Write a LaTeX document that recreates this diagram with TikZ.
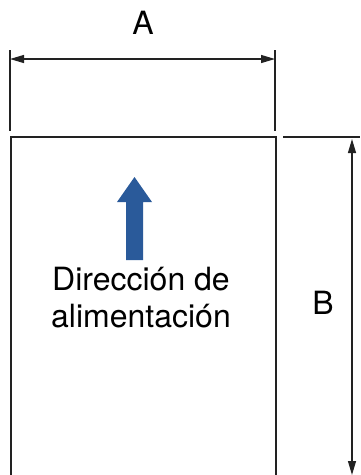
\documentclass[tikz,border=0pt]{standalone}
\usepackage{fontspec}
\setmainfont{TeX Gyre Heros}
\usetikzlibrary{arrows.meta}
\definecolor{linegray}{HTML}{222222}
\definecolor{feedblue}{HTML}{2A5A9A}
\tikzset{
  dimline/.style={draw=linegray, line width=1.2pt, {Triangle[length=14pt,width=8pt]}-{Triangle[length=14pt,width=8pt]}},
  extline/.style={draw=linegray, line width=1.1pt},
  sheet/.style={draw=linegray, line width=2.2pt},
  lbl/.style={font=\fontsize{32}{37}\selectfont, text=black, inner sep=0pt, align=center}
}
\begin{document}
\begin{tikzpicture}[x=1pt,y=-1pt]
\useasboundingbox (0,0) rectangle (360,475);
% sheet
\draw[sheet] (11,476) -- (11,137) -- (276,137) -- (276,476);
% extension lines
\coordinate (al) at (10,50); \coordinate (al2) at (10,131);
\coordinate (ar) at (275,50); \coordinate (ar2) at (275,131);
\draw[extline] (al) -- (al2);
\draw[extline] (ar) -- (ar2);
\coordinate (bt1) at (283,137); \coordinate (bt2) at (360,137);
\draw[extline] (bt1) -- (bt2);
% dimension A
\coordinate (a1) at (10,59); \coordinate (a2) at (275,59);
\draw[dimline] (a1) -- (a2);
\node[lbl] (A) at (143,23) {A};
% dimension B
\coordinate (b1) at (352,139); \coordinate (b2) at (352,475);
\draw[dimline] (b1) -- (b2);
\node[lbl] (B) at (323,303) {B};
% feed arrow
\fill[feedblue] (126,260) -- (126,202) -- (117,202) -- (134.5,177) -- (152,202) -- (143,202) -- (143,260) -- cycle;
\node[lbl, anchor=base] (dir) at (141,327) {Dirección de\\alimentación};
\end{tikzpicture}
\end{document}
